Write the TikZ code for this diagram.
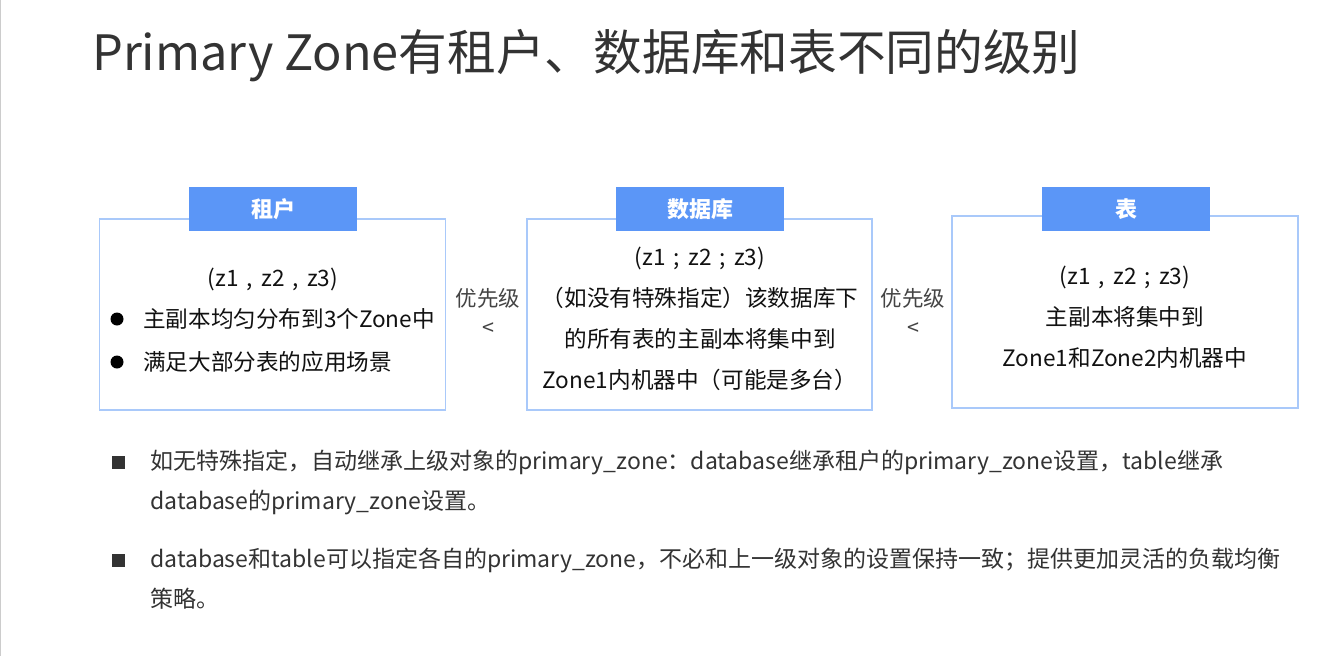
\documentclass[tikz,border=0pt]{standalone}
\usepackage{fontspec}
\setmainfont{Noto Sans CJK SC}
\definecolor{hdr}{HTML}{5B96F7}
\definecolor{bdr}{HTML}{A9C9FA}
\definecolor{ttl}{HTML}{333333}
\definecolor{txt}{HTML}{111111}
\definecolor{prio}{HTML}{444444}
\newcommand{\gapsp}{\hspace{0.36em}}
\begin{document}
\begin{tikzpicture}[x=1pt,y=-1pt,
  panel/.style={draw=bdr, line width=1.5pt, fill=white, inner sep=0pt},
  header/.style={fill=hdr, text=white, font=\fontsize{22}{26}\selectfont\bfseries, minimum width=168pt, minimum height=44pt, inner sep=0pt},
  body/.style={text=txt, font=\fontsize{22.6}{41}\selectfont, align=center, inner sep=0pt},
  prio/.style={text=prio, font=\fontsize{21.5}{29}\selectfont, align=center, inner sep=0pt},
  note/.style={text=ttl, font=\fontsize{23}{39.5}\selectfont, align=left, inner sep=0pt, anchor=north west},
  dot/.style={circle, fill=black, minimum size=13pt, inner sep=0pt},
  sq/.style={rectangle, fill=ttl, minimum size=13pt, inner sep=0pt}]
\useasboundingbox (0,0) rectangle (1344,656);
\fill[white] (0,0) rectangle (1344,656);
\draw[black!20, line width=1pt] (0.5,0) -- (0.5,656);

% title
\node[anchor=west, text=ttl, font=\fontsize{48.7}{56}\selectfont, inner sep=0pt] (title) at (92,56) {Primary Zone有租户、数据库和表不同的级别};

% panels
\node[panel, minimum width=346pt, minimum height=191pt] (p1) at (272.5,314.5) {};
\node[panel, minimum width=345pt, minimum height=191pt] (p2) at (699.5,314.5) {};
\node[panel, minimum width=346pt, minimum height=192pt] (p3) at (1125,312) {};

\node[header] (h1) at (273,209) {租户};
\node[header] (h2) at (700,209) {数据库};
\node[header] (h3) at (1126,209) {表};

% panel 1
\node[body] (t1) at (273,279) {(z1\gapsp,\gapsp z2\gapsp,\gapsp z3)};
\node[dot] (d1) at (117,319) {};
\node[dot] (d2) at (117,362) {};
\node[body, anchor=west] (b1) at (143,319) {主副本均匀分布到3个Zone中};
\node[body, anchor=west] (b2) at (143,362) {满足大部分表的应用场景};

% panel 2
\node[body] (t2) at (700,319) {(z1\gapsp;\gapsp z2\gapsp;\gapsp z3)\\（如没有特殊指定）该数据库下\\的所有表的主副本将集中到\\Zone1内机器中（可能是多台）};

% panel 3
\node[body] (t3) at (1125,317) {(z1\gapsp,\gapsp z2\gapsp;\gapsp z3)\\主副本将集中到\\Zone1和Zone2内机器中};

% priorities
\node[prio] (pr1) at (488,312) {优先级\\<};
\node[prio] (pr2) at (913,312) {优先级\\<};

% notes
\node[sq] (s1) at (118,462) {};
\node[sq] (s2) at (118,560) {};
\node[note] (n1) at (150,450) {如无特殊指定，自动继承上级对象的primary\_zone：database继承租户的primary\_zone设置，table继承\\database的primary\_zone设置。};
\node[note] (n2) at (150,548) {database和table可以指定各自的primary\_zone，不必和上一级对象的设置保持一致；提供更加灵活的负载均衡\\策略。};
\end{tikzpicture}
\end{document}
